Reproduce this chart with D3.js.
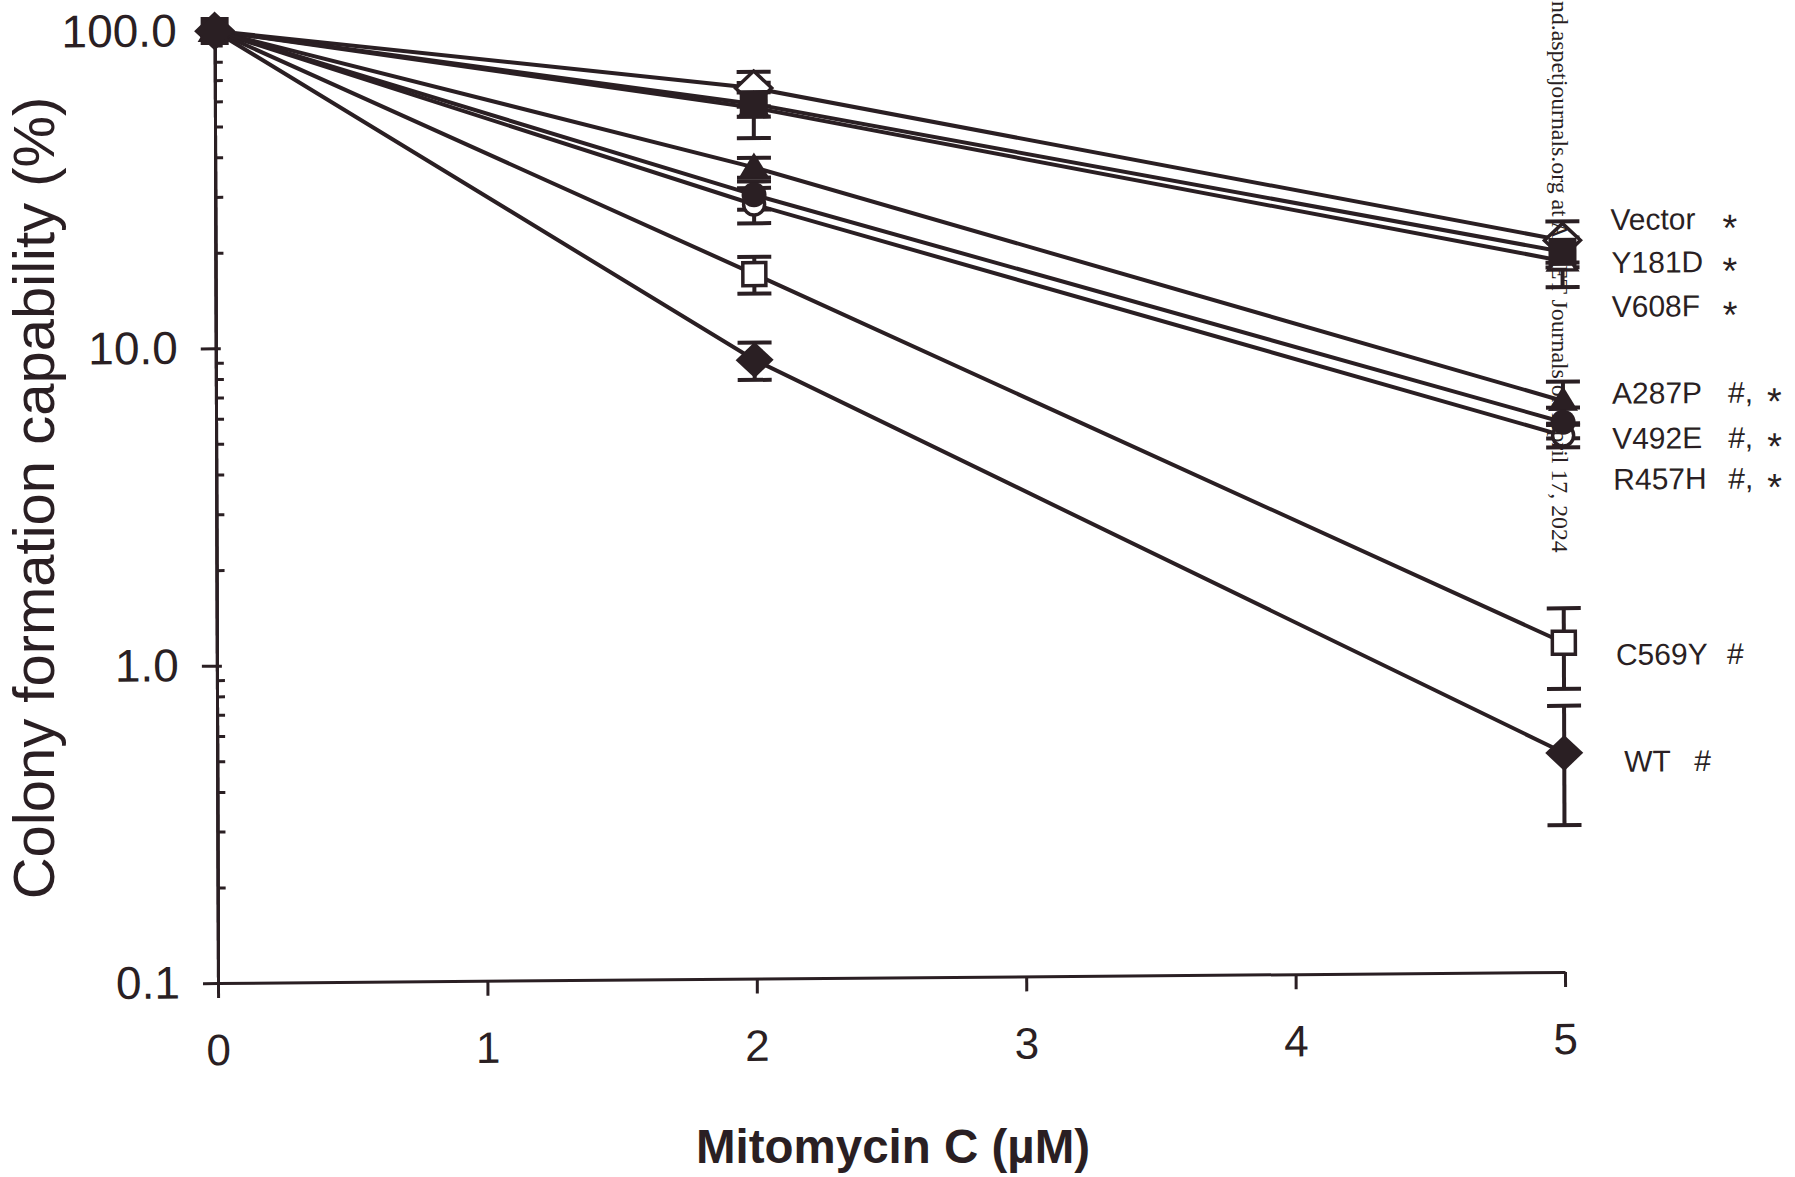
<!DOCTYPE html>
<html>
<head>
<meta charset="utf-8">
<script src="https://cdn.jsdelivr.net/npm/d3@7"></script>
<style>
  html, body { margin: 0; padding: 0; background: #fff; }
  svg { display: block; }
  text { font-family: "Liberation Sans", Arial, sans-serif; fill: #2a1f23; }
</style>
</head>
<body>
<svg id="chart" width="1795" height="1177"></svg>
<script>
// mitomycin C doses (uM)
const doses = [0, 2, 5];

// colony formation (%) and error per series
const vector = [100, 64, 20.2];
const vectorErr = [0, 8, 3];
const y181d = [100, 57, 18.6];
const y181dErr = [0, 5, 2];
const v608f = [100, 55.5, 17.4];
const v608fErr = [0, 11, 3];
const a287p = [100, 36, 6.3];
const a287pErr = [0, 2.6, 0.95];
const r457h = [100, 29.5, 5.4];
const r457hErr = [0, 3, 0.6];
const v492e = [100, 27.5, 4.9];
const v492eErr = [0, 3.5, 0.4];
const c569y = [100, 16.6, 1.09];
const c569yErr = [0, 2.2, 0.31];
const wt = [100, 8.9, 0.49];
const wtErr = [0, 1.2, 0.2];

const seriesNames = ["Vector", "Y181D", "V608F", "A287P", "V492E", "R457H", "C569Y", "WT"];
const significance = ["*", "*", "*", "#, *", "#, *", "#, *", "#", "#"];
const xTicks = [0, 1, 2, 3, 4, 5];
const yTicks = [0.1, 1, 10, 100];
const yTickLabels = ["0.1", "1.0", "10.0", "100.0"];

const seriesValues = [vector, y181d, v608f, a287p, v492e, r457h, c569y, wt];
const seriesErrors = [vectorErr, y181dErr, v608fErr, a287pErr, v492eErr, r457hErr, c569yErr, wtErr];

// look of each series
const markerStyle = {
  "Vector": { shape: "diamond", filled: false },
  "Y181D": { shape: "square", filled: true },
  "V608F": { shape: "triangle", filled: false },
  "A287P": { shape: "triangle", filled: true },
  "V492E": { shape: "circle", filled: false },
  "R457H": { shape: "circle", filled: true },
  "C569Y": { shape: "square", filled: false },
  "WT": { shape: "diamond", filled: true }
};
// where the right hand labels sit (in % units) and their x offsets from the 5 uM line
const labelAt = [23.5, 17.2, 12.5, 6.66, 4.8, 3.57, 1.0, 0.461];
const labelDx = [48, 49, 49, 49, 49, 50, 52, 60];
const hashDx = [0, 0, 0, 165, 165, 165, 163, 130];
const starDx = [160, 160, 160, 204, 204, 204, 0, 0];

const ink = "#2a1f23";

const series = seriesNames.map((name, i) => ({
  name: name,
  hash: significance[i].includes("#") ? significance[i].replace("*", "").trim() : "",
  star: significance[i].includes("*"),
  points: doses.map((d, j) => ({ dose: d, value: seriesValues[i][j], err: seriesErrors[i][j] })),
  style: markerStyle[name]
}));

const svg = d3.select("#chart");

const x = d3.scaleLinear().domain([0, 5]).range([218, 1565]);
const y = d3.scaleLog().domain([0.1, 100]).range([983, 31]);

// the scan is a little skewed
const g = svg.append("g")
  .attr("transform", "matrix(1,-0.0082,0.0035,1,-3.44,1.79)");

// y axis
g.append("g")
  .attr("transform", `translate(${x(0)},0)`)
  .call(d3.axisLeft(y).tickValues(yTicks).tickSize(15).tickSizeOuter(0).tickPadding(23)
    .tickFormat((d, i) => yTickLabels[i]))
  .call(a => a.selectAll("text").style("font-size", "46px"));

const minors = [];
[0.1, 1, 10].forEach(b => { for (let k = 2; k <= 9; k++) minors.push(b * k); });

g.append("g")
  .attr("transform", `translate(${x(0)},0)`)
  .call(d3.axisRight(y).tickValues(minors).tickSize(8).tickSizeOuter(0).tickFormat(""));
g.append("g")
  .attr("transform", `translate(${x(0)},0)`)
  .call(d3.axisRight(y).tickValues(yTicks).tickSize(5).tickSizeOuter(0).tickFormat(""));

// x axis
g.append("g")
  .attr("transform", `translate(0,${y(0.1)})`)
  .call(d3.axisBottom(x).tickValues(xTicks).tickSize(15).tickSizeOuter(0).tickPadding(36)
    .tickFormat(d3.format("d")))
  .call(a => a.selectAll("text").style("font-size", "44px"));

g.selectAll(".domain").attr("stroke", ink).attr("stroke-width", 3);
g.selectAll(".tick line").attr("stroke", ink).attr("stroke-width", 3);
g.selectAll(".tick text").attr("fill", ink).style("font-family", "'Liberation Sans', Arial, sans-serif");

// lines
const line = d3.line().x(d => x(d.dose)).y(d => y(d.value));
g.append("g").selectAll("path")
  .data(series)
  .join("path")
  .attr("d", d => line(d.points))
  .attr("fill", "none")
  .attr("stroke", ink)
  .attr("stroke-width", 4);

// error bars
const errPts = series.flatMap(s => s.points.filter(p => p.err > 0));
const capW = 17;
const eb = g.append("g").attr("stroke", ink).attr("stroke-width", 4);
eb.selectAll("line.v").data(errPts).join("line")
  .attr("class", "v")
  .attr("x1", d => x(d.dose)).attr("x2", d => x(d.dose))
  .attr("y1", d => y(d.value + d.err)).attr("y2", d => y(d.value - d.err));
eb.selectAll("line.t").data(errPts).join("line")
  .attr("class", "t")
  .attr("x1", d => x(d.dose) - capW).attr("x2", d => x(d.dose) + capW)
  .attr("y1", d => y(d.value + d.err)).attr("y2", d => y(d.value + d.err));
eb.selectAll("line.b").data(errPts).join("line")
  .attr("class", "b")
  .attr("x1", d => x(d.dose) - capW).attr("x2", d => x(d.dose) + capW)
  .attr("y1", d => y(d.value - d.err)).attr("y2", d => y(d.value - d.err));

// markers
function shapePath(shape) {
  if (shape === "diamond") return "M0,-18L19,0L0,18L-19,0Z";
  if (shape === "square") return "M-14,-14H14V14H-14Z";
  if (shape === "triangle") return "M0,-15L15,10H-15Z";
  return "M12.5,0A12.5,12.5 0 1,1 -12.5,0A12.5,12.5 0 1,1 12.5,0Z";
}
function shapePathOpen(shape) {
  if (shape === "square") return "M-11.5,-11.5H11.5V11.5H-11.5Z";
  if (shape === "circle") return "M10.5,0A10.5,10.5 0 1,1 -10.5,0A10.5,10.5 0 1,1 10.5,0Z";
  if (shape === "diamond") return "M0,-17L18,0L0,17L-18,0Z";
  return "M0,-14L14,9H-14Z";
}

const markPts = series.flatMap(s => s.points.map(p => ({ ...p, style: s.style })));
g.append("g").selectAll("path")
  .data(markPts.filter(d => !d.style.filled))
  .join("path")
  .attr("transform", d => `translate(${x(d.dose)},${y(d.value)})`)
  .attr("d", d => shapePathOpen(d.style.shape))
  .attr("fill", "#fff")
  .attr("stroke", ink)
  .attr("stroke-width", 3.5);
g.append("g").selectAll("path")
  .data(markPts.filter(d => d.style.filled))
  .join("path")
  .attr("transform", d => `translate(${x(d.dose)},${y(d.value)})`)
  .attr("d", d => shapePath(d.style.shape))
  .attr("fill", ink);

// right hand labels
const lab = g.append("g").style("font-size", "30px");
lab.selectAll("text.name").data(series).join("text")
  .attr("class", "name")
  .attr("x", (d, i) => x(5) + labelDx[i])
  .attr("y", (d, i) => y(labelAt[i]))
  .attr("dy", "0.36em")
  .text(d => d.name);
lab.selectAll("text.hash").data(series.filter(d => d.hash)).join("text")
  .attr("class", "hash")
  .attr("x", d => x(5) + hashDx[seriesNames.indexOf(d.name)])
  .attr("y", d => y(labelAt[seriesNames.indexOf(d.name)]))
  .attr("dy", "0.36em")
  .text(d => d.hash);
lab.selectAll("text.star").data(series.filter(d => d.star)).join("text")
  .attr("class", "star")
  .attr("x", d => x(5) + starDx[seriesNames.indexOf(d.name)])
  .attr("y", d => y(labelAt[seriesNames.indexOf(d.name)]))
  .attr("dy", "0.6em")
  .style("font-size", "38px")
  .text("*");

// axis titles
svg.append("text")
  .attr("transform", "translate(54,498) rotate(-90)")
  .attr("text-anchor", "middle")
  .style("font-size", "58px")
  .text("Colony formation capability  (%)");

svg.append("text")
  .attr("x", 893)
  .attr("y", 1163)
  .attr("text-anchor", "middle")
  .style("font-size", "47.5px")
  .style("font-weight", "bold")
  .text("Mitomycin C (\u00b5M)");

// download stamp running down the page
svg.append("text")
  .attr("transform", "translate(1552,1) rotate(90)")
  .style("font-family", "'Liberation Serif', 'Times New Roman', serif")
  .style("font-size", "23.8px")
  .attr("fill", "#000")
  .text("nd.aspetjournals.org at ASPET Journals on April 17, 2024");
</script>
</body>
</html>
